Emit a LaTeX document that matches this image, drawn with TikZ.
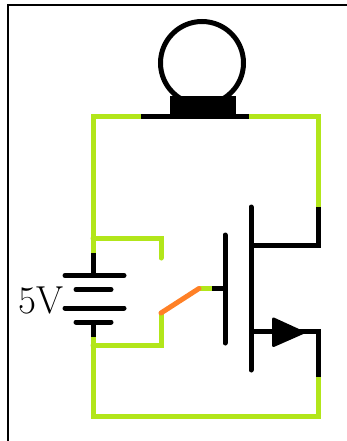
\documentclass[tikz,border=0pt]{standalone}
\tikzset{
  wiregreen/.style={draw=wgreen,line width=5pt,line cap=butt,line join=miter},
  wireblack/.style={draw=black,line width=5pt,line cap=butt,line join=miter},
  plate/.style={draw=black,line width=5pt,line cap=round},
  frameline/.style={draw=black,line width=1.7pt}
}
\definecolor{wgreen}{HTML}{B2E61A}
\definecolor{worange}{HTML}{FF8026}
\begin{document}
\begin{tikzpicture}[x=1pt,y=-1pt]
\useasboundingbox (0,0) rectangle (347,441);
\fill[white] (0,0) rectangle (347,441);
\draw[frameline] (8,441) -- (8,5) -- (347,5);
% named points
\coordinate (tl) at (93,116);
\coordinate (tr) at (318,116);
\coordinate (bl) at (93,416);
\coordinate (br) at (318,416);
\coordinate (lampL) at (141,116);
\coordinate (lampR) at (249,116);
\coordinate (batTop) at (93,253);
\coordinate (batBot) at (93,337);
\coordinate (drainEnd) at (318,207);
\coordinate (sourceEnd) at (318,377);
\coordinate (swA) at (161,258);
\coordinate (swB) at (161,313);
\coordinate (swC) at (199,288.5);
\coordinate (gateW) at (212,288.5);
\coordinate (gateP) at (225,288.5);
% bulb
\draw[black,line width=5pt] (202,63) circle (41.5);
\fill[black] (169.5,96) rectangle (235.5,118.5);
\draw[wireblack] (lampL) -- (lampR);
% battery
\draw[wireblack] (batTop) -- (93,275);
\draw[wireblack] (93,322) -- (batBot);
\draw[plate] (65,275.5) -- (124,275.5);
\draw[plate] (76,289.5) -- (111,289.5);
\draw[plate] (65,308) -- (124,308);
\draw[plate] (76,322) -- (111,322);
\node[inner sep=0pt,font=\fontsize{39}{39}\selectfont] (volt) at (41,300.5) {5V};
% mosfet
\draw[plate] (251,207) -- (251,370);
\draw[plate] (225,235) -- (225,343);
\draw[wireblack] (gateW) -- (gateP);
\draw[wireblack] (drainEnd) -- (318,245) -- (251,245);
\draw[wireblack] (sourceEnd) -- (318,331) -- (251,331);
\fill[black,draw=black,line width=3pt,line join=round] (273.5,319) -- (273.5,345.5) -- (303,332.5) -- cycle;
% green wires
\draw[wiregreen] (lampL) -- (tl) -- (batTop);
\draw[wiregreen] (lampR) -- (tr) -- (drainEnd);
\draw[wiregreen] (batBot) -- (bl) -- (br) -- (sourceEnd);
\draw[wiregreen,line cap=round] (93,238) -- (161,238) -- (swA);
\draw[wiregreen,line cap=round] (93,345) -- (161,345) -- (swB);
\draw[wiregreen] (swC) -- (gateW);
\draw[draw=worange,line width=5pt,line cap=round] (swB) -- (swC);
\end{tikzpicture}
\end{document}
